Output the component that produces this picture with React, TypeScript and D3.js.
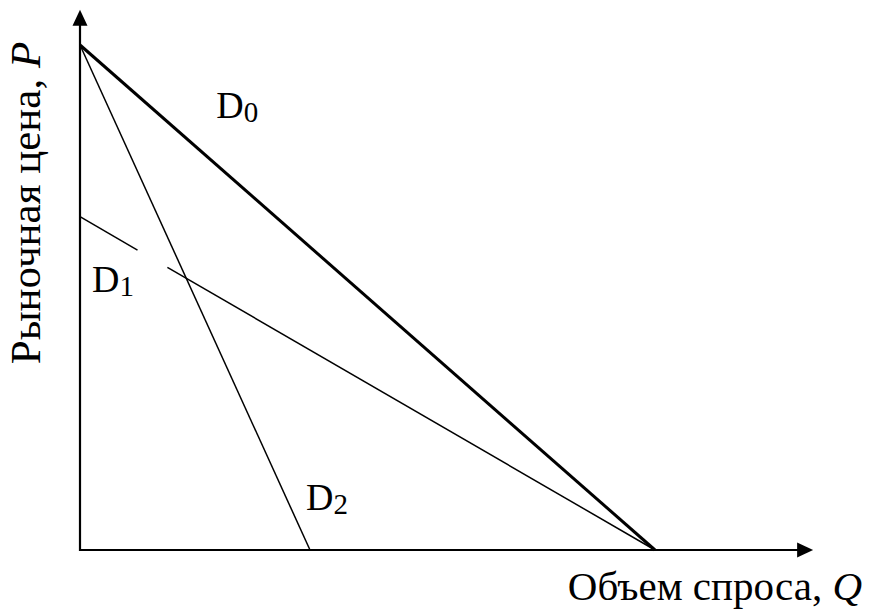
import React, { useRef, useEffect } from "react";
import * as d3 from "d3";

// demand curves: name, price intercept (Q = 0), quantity intercept (P = 0)
const curveNames = ["D0", "D1", "D2"];
const priceIntercepts = [10, 6.6, 10];
const quantityIntercepts = [10, 10, 4];
const curveWidths = [3, 1.5, 1.5];
// D1 is broken where its label sits (quantity range)
const d1Gap = [1.0, 1.52];
// label anchor points in chart units [Q, P]
const labelPositions: [number, number][] = [
  [2.37, 8.55],
  [0.21, 5.11],
  [3.93, 0.79],
];

const xAxisLabel = "Объем спроса, ";
const yAxisLabel = "Рыночная цена, ";

const W = 869;
const H = 610;
const FONT = "'Liberation Serif', 'Times New Roman', serif";

const App = () => {
  const svgRef = useRef<SVGSVGElement>(null);

  useEffect(() => {
    const svg = d3.select(svgRef.current);
    svg.selectAll("*").remove();

    const xScale = d3.scaleLinear().domain([0, 10]).range([80, 655]);
    const yScale = d3.scaleLinear().domain([0, 10]).range([550, 45]);

    const xMax = 12.75;
    const yMax = 10.7;

    const axisW = 2.2;

    // axes
    svg
      .append("line")
      .attr("x1", xScale(0))
      .attr("y1", yScale(0))
      .attr("x2", xScale(xMax) - 12)
      .attr("y2", yScale(0))
      .attr("stroke", "#000")
      .attr("stroke-width", axisW);
    svg
      .append("line")
      .attr("x1", xScale(0))
      .attr("y1", yScale(0) + axisW / 2)
      .attr("x2", xScale(0))
      .attr("y2", yScale(yMax) + 12)
      .attr("stroke", "#000")
      .attr("stroke-width", axisW);

    // arrow heads
    const xt = xScale(xMax);
    const yt = yScale(0);
    svg
      .append("path")
      .attr("d", `M${xt},${yt} L${xt - 16},${yt - 7.5} L${xt - 16},${yt + 7.5} Z`)
      .attr("fill", "#000");
    const ax = xScale(0);
    const at = yScale(yMax);
    svg
      .append("path")
      .attr("d", `M${ax},${at} L${ax - 7.5},${at + 16} L${ax + 7.5},${at + 16} Z`)
      .attr("fill", "#000");

    const line = d3
      .line<[number, number]>()
      .x((d) => xScale(d[0]))
      .y((d) => yScale(d[1]));

    curveNames.forEach((name, i) => {
      const p0 = priceIntercepts[i];
      const q0 = quantityIntercepts[i];
      const priceAt = (q: number) => p0 * (1 - q / q0);
      let segments: [number, number][][];
      if (name === "D1") {
        segments = [
          [
            [0, p0],
            [d1Gap[0], priceAt(d1Gap[0])],
          ],
          [
            [d1Gap[1], priceAt(d1Gap[1])],
            [q0, 0],
          ],
        ];
      } else {
        segments = [
          [
            [0, p0],
            [q0, 0],
          ],
        ];
      }
      segments.forEach((seg) => {
        svg
          .append("path")
          .attr("d", line(seg))
          .attr("fill", "none")
          .attr("stroke", "#000")
          .attr("stroke-width", curveWidths[i]);
      });

      const [lq, lp] = labelPositions[i];
      const t = svg
        .append("text")
        .attr("x", xScale(lq))
        .attr("y", yScale(lp))
        .attr("font-family", FONT)
        .attr("font-size", 38)
        .attr("fill", "#000");
      t.append("tspan").text(name[0]);
      t.append("tspan")
        .attr("font-size", 29)
        .attr("dy", 4)
        .text(name.slice(1));
    });

    // axis titles
    const xt2 = svg
      .append("text")
      .attr("x", 862)
      .attr("y", 600)
      .attr("text-anchor", "end")
      .attr("font-family", FONT)
      .attr("font-size", 41)
      .attr("fill", "#000");
    xt2.append("tspan").text(xAxisLabel);
    xt2.append("tspan").attr("font-style", "italic").text("Q");

    const yt2 = svg
      .append("text")
      .attr("transform", `translate(40,203) rotate(-90)`)
      .attr("text-anchor", "middle")
      .attr("font-family", FONT)
      .attr("font-size", 43)
      .attr("fill", "#000");
    yt2.append("tspan").text(yAxisLabel);
    yt2.append("tspan").attr("font-style", "italic").text("P");
  }, []);

  return (
    <svg
      ref={svgRef}
      width={W}
      height={H}
      style={{ position: "absolute", left: 0, top: 0, background: "#fff" }}
    />
  );
};

export default App;
